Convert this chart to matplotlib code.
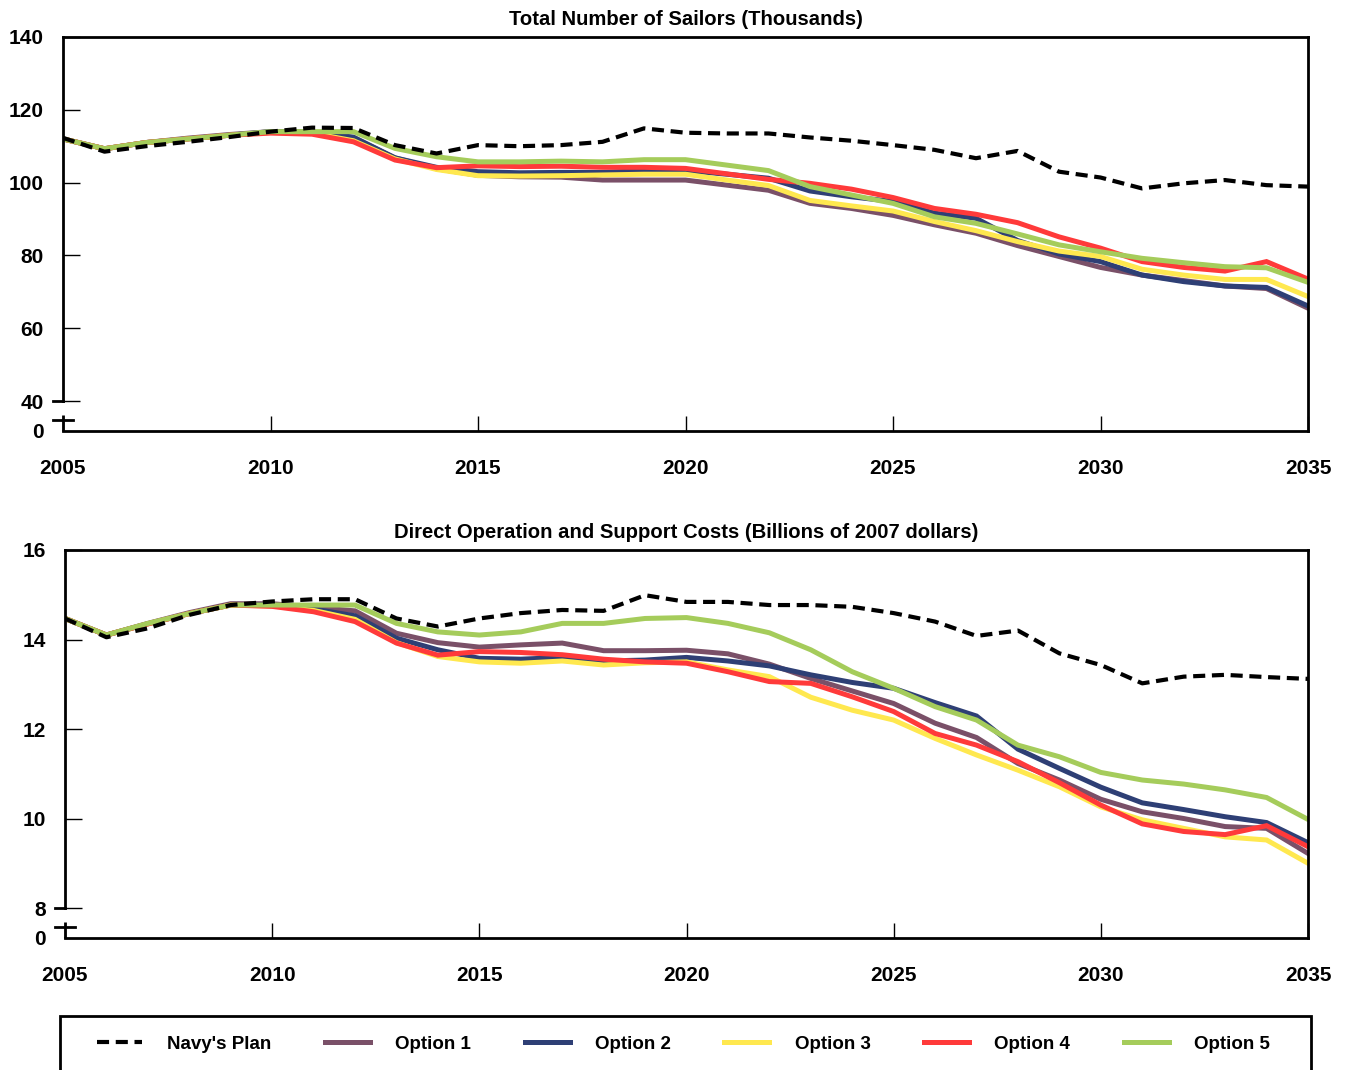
"""
Navy manpower options: end strength and direct O&S costs, 2005-2035.

Two stacked line panels (broken y axis down to zero) sharing one legend.
"""
import matplotlib
import numpy as np

matplotlib.use("Agg")
import matplotlib.pyplot as plt  # noqa: E402
from matplotlib.patches import Rectangle  # noqa: E402
from matplotlib.transforms import blended_transform_factory  # noqa: E402

plt.rcParams["font.family"] = ["Liberation Sans", "DejaVu Sans"]
plt.rcParams["font.weight"] = "bold"

YEARS = np.arange(2005, 2036)
SERIES = ["Navy's Plan", "Option 1", "Option 2", "Option 3", "Option 4", "Option 5"]
COLORS = ["#000000", "#7a5068", "#2e3f75", "#ffe84f", "#ff3a3a", "#a5cc5b"]

# ---- total sailors (thousands) ----
sailors_navy = [112.3, 108.5, 110.0, 111.2, 112.5, 114.0, 115.1, 115.0, 110.3, 108.0,
                110.3, 110.0, 110.3, 111.2, 114.9, 113.7, 113.5, 113.5, 112.4, 111.5,
                110.3, 109.0, 106.7, 108.7, 103.0, 101.4, 98.4, 99.8, 100.7, 99.3, 98.9]
sailors_opt1 = [112.0, 109.3, 111.0, 112.2, 113.2, 114.0, 113.8, 112.3, 106.8, 103.8,
                102.0, 101.6, 101.5, 100.7, 100.7, 100.7, 99.3, 97.9, 94.3, 92.9,
                91.0, 88.4, 86.1, 82.7, 79.7, 76.7, 74.6, 73.1, 71.6, 70.9, 65.5]
sailors_opt2 = [112.0, 109.3, 111.0, 112.0, 113.0, 114.0, 113.8, 112.5, 106.8, 104.2,
                103.0, 102.7, 102.8, 102.8, 103.3, 103.3, 102.3, 101.2, 97.7, 96.1,
                94.8, 91.6, 90.2, 84.1, 80.4, 78.3, 74.6, 72.8, 71.6, 71.2, 66.1]
sailors_opt3 = [112.0, 109.3, 111.0, 112.0, 113.0, 113.8, 113.6, 111.5, 106.5, 103.6,
                101.9, 101.8, 101.9, 102.1, 102.3, 102.3, 100.7, 99.2, 95.1, 93.6,
                92.2, 89.3, 86.8, 83.8, 81.2, 79.7, 76.2, 74.6, 73.4, 73.4, 68.7]
sailors_opt4 = [112.0, 109.3, 111.0, 112.0, 113.0, 113.6, 113.3, 111.2, 106.2, 104.1,
                104.6, 104.4, 104.5, 104.2, 104.2, 103.9, 102.4, 100.9, 99.8, 98.2,
                95.9, 92.9, 91.3, 89.0, 85.1, 82.0, 78.3, 76.7, 75.7, 78.3, 73.5]
sailors_opt5 = [112.0, 109.3, 111.0, 112.0, 113.0, 114.0, 114.0, 114.0, 109.4, 107.1,
                105.7, 105.7, 105.9, 105.7, 106.3, 106.3, 104.8, 103.3, 98.9, 96.6,
                94.3, 90.6, 88.8, 85.9, 82.9, 81.0, 79.2, 78.0, 76.9, 76.6, 72.6]

# ---- direct O&S costs (billions of 2007 dollars) ----
costs_navy = [14.47, 14.05, 14.25, 14.55, 14.77, 14.85, 14.90, 14.90, 14.47, 14.29,
              14.47, 14.59, 14.66, 14.64, 14.99, 14.84, 14.84, 14.77, 14.77, 14.73,
              14.59, 14.40, 14.08, 14.20, 13.69, 13.43, 13.02, 13.17, 13.21, 13.16, 13.12]
costs_opt1 = [14.47, 14.10, 14.36, 14.60, 14.80, 14.80, 14.72, 14.64, 14.14, 13.93,
              13.83, 13.88, 13.92, 13.75, 13.75, 13.76, 13.68, 13.45, 13.13, 12.85,
              12.57, 12.13, 11.81, 11.23, 10.86, 10.43, 10.15, 10.00, 9.82, 9.78, 9.22]
costs_opt2 = [14.47, 14.10, 14.35, 14.58, 14.77, 14.77, 14.68, 14.53, 14.03, 13.77,
              13.58, 13.56, 13.60, 13.52, 13.54, 13.60, 13.52, 13.41, 13.21, 13.04,
              12.91, 12.59, 12.29, 11.55, 11.12, 10.70, 10.35, 10.20, 10.04, 9.91, 9.46]
costs_opt3 = [14.47, 14.10, 14.35, 14.58, 14.77, 14.75, 14.65, 14.45, 13.93, 13.62,
              13.50, 13.47, 13.52, 13.43, 13.48, 13.50, 13.32, 13.17, 12.71, 12.42,
              12.20, 11.79, 11.42, 11.08, 10.71, 10.26, 9.97, 9.78, 9.59, 9.52, 9.00]
costs_opt4 = [14.47, 14.10, 14.35, 14.58, 14.77, 14.74, 14.62, 14.40, 13.92, 13.65,
              13.73, 13.71, 13.66, 13.56, 13.50, 13.47, 13.28, 13.06, 13.02, 12.72,
              12.39, 11.90, 11.64, 11.27, 10.80, 10.30, 9.88, 9.71, 9.64, 9.84, 9.37]
costs_opt5 = [14.47, 14.10, 14.36, 14.58, 14.77, 14.77, 14.77, 14.77, 14.36, 14.17,
              14.10, 14.17, 14.36, 14.36, 14.47, 14.49, 14.36, 14.15, 13.77, 13.28,
              12.91, 12.50, 12.20, 11.64, 11.38, 11.03, 10.86, 10.77, 10.64, 10.47, 9.98]

W, H = 1346, 1070


def _panel(fig, rect, series, title, yticks, ymin, seg_top, brk):
    ax = fig.add_axes(rect)
    # options first (green last so it sits on top), navy dashed over everything
    for i in [1, 2, 3, 4, 5, 0]:
        if i == 0:
            ax.plot(YEARS, series[i], color=COLORS[i], lw=3.0,
                    linestyle=(0, (2.9, 1.6)), zorder=5, label=SERIES[i])
        else:
            ax.plot(YEARS, series[i], color=COLORS[i], lw=3.6,
                    solid_joinstyle="miter", zorder=2 + i * 0.1, label=SERIES[i])
    ax.set_xlim(2005, 2035)
    ax.set_ylim(ymin, yticks[-1])
    ax.set_xticks(np.arange(2005, 2036, 5))
    ax.set_yticks([ymin] + yticks, ["0"] + [str(t) for t in yticks])
    ax.yaxis.get_major_ticks()[0].tick1line.set_visible(False)
    ax.tick_params(axis="y", direction="in", length=12, width=1.0, pad=14,
                   labelsize=15)
    ax.tick_params(axis="x", direction="in", length=11, width=1.0, pad=20,
                   labelsize=15)
    for s in ax.spines.values():
        s.set_linewidth(2.0)
    ax.spines["left"].set_bounds(yticks[0], yticks[-1])
    ax.set_title(title, fontsize=14.6, fontweight="bold", pad=8.5)

    # broken axis: short stub below the gap plus the break marks
    tr = blended_transform_factory(ax.transAxes, ax.transData)
    ax.plot([0, 0], [ymin, seg_top], color="black", lw=2.0, transform=tr,
            clip_on=False, solid_capstyle="butt")
    ax.plot([-0.008, 0], [yticks[0], yticks[0]], color="black", lw=2.0,
            transform=tr, clip_on=False)
    ax.plot([-0.008, 0.008], [brk, brk], color="black", lw=2.0,
            transform=tr, clip_on=False)
    return ax


def main():
    fig = plt.figure(figsize=(W / 100, H / 100), dpi=100)

    top = [sailors_navy, sailors_opt1, sailors_opt2, sailors_opt3, sailors_opt4,
           sailors_opt5]
    bot = [costs_navy, costs_opt1, costs_opt2, costs_opt3, costs_opt4, costs_opt5]

    ax1 = _panel(fig, [63 / W, 1 - 431 / H, 1245 / W, 394 / H], top,
                 "Total Number of Sailors (Thousands)", [40, 60, 80, 100, 120, 140],
                 ymin=31.76, seg_top=36.15, brk=34.78)
    _panel(fig, [65 / W, 1 - 938 / H, 1243 / W, 388 / H], bot,
           "Direct Operation and Support Costs (Billions of 2007 dollars)",
           [8, 10, 12, 14, 16], ymin=7.33, seg_top=7.69, brk=7.57)

    # legend box runs off the bottom of the page, like the original
    fig.patches.append(Rectangle((60 / W, -0.05), 1251 / W, 0.05 + 1 - 1016 / H,
                                 transform=fig.transFigure, fill=False,
                                 edgecolor="black", lw=2.0))
    handles, labels = ax1.get_legend_handles_labels()
    order = [labels.index(s) for s in SERIES]
    fig.legend([handles[i] for i in order], [labels[i] for i in order],
               loc="center left", bbox_to_anchor=(97 / W, 1 - 1044 / H),
               ncol=6, frameon=False, fontsize=13.5, borderaxespad=0, borderpad=0,
               handlelength=2.4, handletextpad=1.35, columnspacing=2.85)

    fig.savefig("out.png", dpi=100)
    plt.close(fig)


if __name__ == "__main__":
    main()
